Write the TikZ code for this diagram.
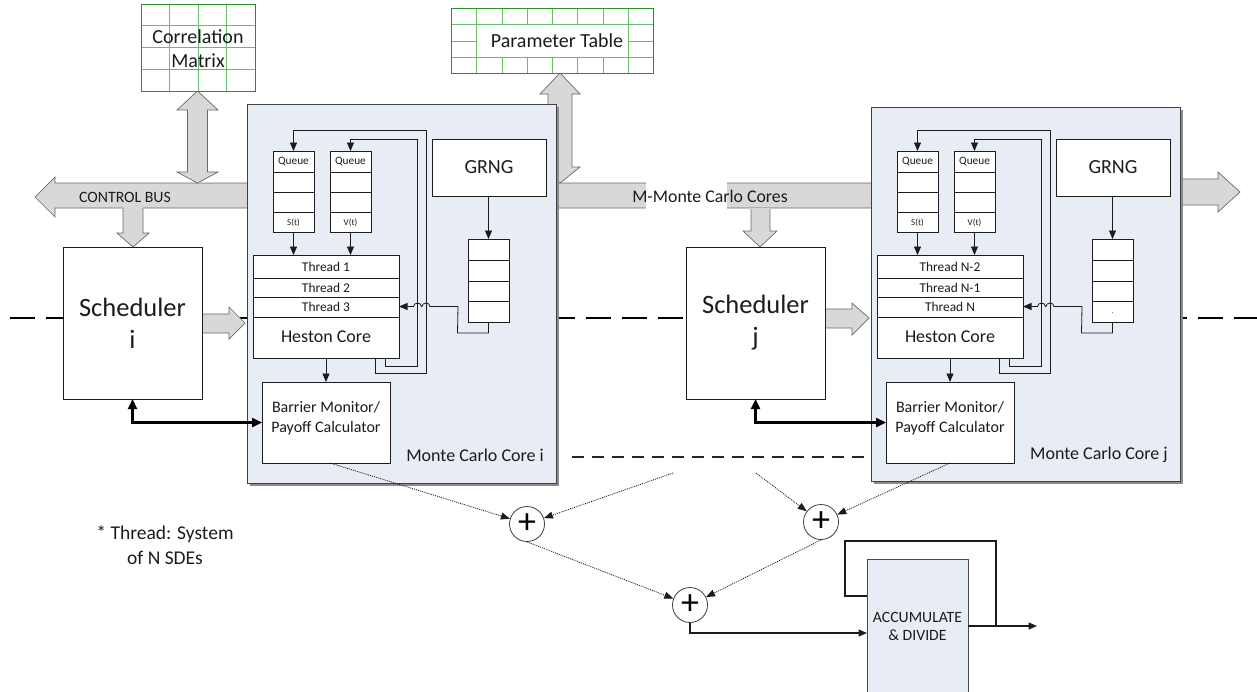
\documentclass[tikz,border=0pt]{standalone}
\usepackage{fontspec}
\setmainfont{Carlito}
\usetikzlibrary{arrows.meta,calc}

\definecolor{coreblue}{RGB}{232,236,244}
\definecolor{busgrey}{RGB}{216,216,216}
\definecolor{busedge}{RGB}{105,105,105}
\definecolor{griddark}{RGB}{40,145,40}
\definecolor{gridlight}{RGB}{105,190,105}
\definecolor{ink}{RGB}{28,28,28}

\newcommand\fs[2]{\fontsize{#1}{#2}\selectfont}

\tikzset{
  blk/.style={draw=ink, line width=0.8pt, fill=white, inner sep=0pt, outer sep=0pt, anchor=north west},
  corebox/.style={draw=black!75, line width=0.9pt, fill=coreblue, inner sep=0pt, outer sep=0pt, anchor=north west},
  gridbox/.style={draw=griddark, line width=0.9pt, fill=white, inner sep=0pt, outer sep=0pt, anchor=north west},
  gridline/.style={draw=gridlight, line width=0.8pt},
  busshape/.style={draw=busedge, line width=0.7pt, fill=busgrey},
  wire/.style={draw=ink, line width=0.8pt},
  sig/.style={wire, -{Triangle[length=8.5pt,width=7pt]}},
  ctl/.style={draw=black, line width=2.3pt, {Triangle[length=10pt,width=9pt]}-{Triangle[length=10pt,width=9pt]}},
  sumline/.style={draw=ink, line width=0.8pt, dash pattern=on 1pt off 1pt, -{Triangle[length=9pt,width=7pt]}},
  adder/.style={circle, draw=ink!85, line width=0.8pt, fill=white, minimum size=35pt, inner sep=0pt},
  txt/.style={text=ink, inner sep=0pt, align=center}
}

% One Monte Carlo core: #1 shift, #2 name suffix, #3 top, #4 height,
% #5-#7 thread rows, #8 core letter
\newcommand\mccore[8]{%
\begin{scope}[xshift=#1]
  \fill[black!45] (250,{#3+3}) rectangle ++(309,#4);
  \node[corebox, minimum width=309, minimum height=#4] (core#2) at (247,#3) {};
  % S(t) and V(t) queues
  \node[blk, minimum width=41, minimum height=81] (qs#2) at (273,151) {};
  \node[blk, minimum width=41, minimum height=81] (qv#2) at (330,151) {};
  \foreach \x in {273,330}{\foreach \y in {172,192,212}{\draw[wire] (\x,\y) -- ++(41,0);}}
  \node[txt, font=\fs{11.3}{13}] at (293.5,161.5) {Queue};
  \node[txt, font=\fs{11.3}{13}] at (350.5,161.5) {Queue};
  \node[txt, font=\fs{9}{11}] at (293.5,222.5) {S(t)};
  \node[txt, font=\fs{9}{11}] at (350.5,222.5) {V(t)};
  % thread stack
  \node[blk, minimum width=146, minimum height=103] (thr#2) at (253,255) {};
  \foreach \y in {278,297,317}{\draw[wire] (253,\y) -- ++(146,0);}
  \node[txt, font=\fs{13.4}{16}] at (326,266.5) {#5};
  \node[txt, font=\fs{13.4}{16}] at (326,287.5) {#6};
  \node[txt, font=\fs{13.4}{16}] at (326,307) {#7};
  \node[txt, font=\fs{18}{22}] at (326,337) {Heston Core};
  \draw[sig] (qs#2.south) -- (qs#2.south |- thr#2.north);
  \draw[sig] (qv#2.south) -- (qv#2.south |- thr#2.north);
  % random number generator and its buffer
  \node[blk, minimum width=114, minimum height=57, font=\fs{20}{24}, text=ink] (grng#2) at (432,139) {GRNG};
  \node[blk, minimum width=41, minimum height=83] (buf#2) at (468,239) {};
  \foreach \y in {260,281,301}{\draw[wire] (468,\y) -- ++(41,0);}
  \draw[sig] (buf#2.north |- grng#2.south) -- (buf#2.north);
  \draw[sig] (buf#2.south) -- ++(0,11) -- ++(-31,0) -- (458,306.5) -- (430,306.5)
     .. controls (430,302) and (422,302) .. (422,306.5) -- (421.5,306.5)
     .. controls (421.5,302) and (413.5,302) .. (413.5,306.5) -- (thr#2.east);
  % feedback of the state variables
  \draw[sig] ([xshift=49pt]thr#2.south) -- ++(0,15) -- ++(51,0) -- ++(0,-243) -| (qs#2.north);
  \draw[sig] ([xshift=59pt]thr#2.south) -- ++(0,8) -- ++(32,0) -- ++(0,-227) -| (qv#2.north);
  % payoff stage
  \node[blk, minimum width=128, minimum height=81] (bar#2) at (262,382) {};
  \node[txt, font=\fs{16}{20}] at (326,418) {Barrier Monitor/\\Payoff Calculator};
  \draw[sig] (thr#2.south) -- (bar#2.north);
  \node[txt, anchor=east, font=\fs{18}{22}] at (544,455) {Monte Carlo Core #8};
\end{scope}}

\begin{document}
\begin{tikzpicture}[x=1pt, y=-1pt]
\useasboundingbox (0,0) rectangle (1257,691);
\clip (0,0) rectangle (1257,691);

% partition lines
\coordinate (dl) at (10,318);
\coordinate (dr) at (1257,318);
\draw[black, line width=2.4pt, dash pattern=on 25pt off 11pt] (dl) -- (dr);
\coordinate (tl) at (572,457);
\coordinate (tr) at (872,457);
\draw[black!85, line width=1.2pt, dash pattern=on 12pt off 8pt] (tl) -- (tr);

% control bus and core bus
\draw[busshape] (35,197) -- (55,177) -- (55,183) -- (872,183) -- (872,208) -- (55,208) -- (55,217) -- cycle;
\fill[white] (646,180) rectangle (727,211);
\draw[busshape] (1170,179) -- (1218,179) -- (1218,172) -- (1240,192) -- (1218,212) -- (1218,205) -- (1170,205) -- cycle;
% bus drops into the schedulers
\fill[busgrey] (123,207) -- (123,233) -- (117,233) -- (133,247) -- (149,233) -- (143,233) -- (143,207) -- cycle;
\draw[busedge, line width=0.7pt] (123,208) -- (123,233) -- (117,233) -- (133,247) -- (149,233) -- (143,233) -- (143,208);
\fill[busgrey] (751,208) -- (751,231) -- (743,231) -- (760,247) -- (777,231) -- (770,231) -- (770,208) -- cycle;
\draw[busedge, line width=0.7pt] (751,209) -- (751,231) -- (743,231) -- (760,247) -- (777,231) -- (770,231) -- (770,209);
% memory ports
\draw[busshape] (197.5,91) -- (218,110) -- (207.5,110) -- (207.5,172) -- (218,172) -- (197.5,183)
   -- (177,172) -- (187.5,172) -- (187.5,110) -- (177,110) -- cycle;
\draw[busshape] (560,73) -- (580,94) -- (572,94) -- (572,167) -- (580,167) -- (560,183)
   -- (540,167) -- (548,167) -- (548,94) -- (540,94) -- cycle;
% scheduler outputs
\draw[busshape] (202,314) -- (229,314) -- (229,307) -- (245,323) -- (229,339) -- (229,333) -- (202,333) -- cycle;
\draw[busshape] (825,309) -- (852,309) -- (852,303) -- (869,318) -- (852,335) -- (852,328) -- (825,328) -- cycle;

\node[txt, font=\fs{15.8}{18}] (cbus) at (125,197) {CONTROL BUS};
\node[txt, font=\fs{17.8}{20}] (mbus) at (710,196) {M-Monte Carlo Cores};

% correlation matrix
\node[gridbox, minimum width=114, minimum height=87] (corr) at (141,4) {};
\foreach \x in {169.5,198,226.5}{\draw[gridline] (\x,4) -- (\x,91);}
\foreach \y in {25.75,47.5,69.25}{\draw[gridline] (141,\y) -- (255,\y);}
\draw[griddark, line width=0.9pt] (corr.north west) rectangle (corr.south east);
\node[txt, font=\fs{20}{24}] at (198,49) {Correlation\\Matrix};

% parameter table
\node[gridbox, minimum width=202, minimum height=65] (ptab) at (451,8) {};
\draw[gridline] (451,24) -- (653,24);
\draw[gridline] (451,57) -- (653,57);
\draw[gridline] (451,41) -- (476,41);
\draw[gridline] (628,41) -- (653,41);
\draw[gridline] (476,8) -- (476,73);
\draw[gridline] (628,8) -- (628,73);
\foreach \x in {502,527,552,577,603}{
  \draw[gridline] (\x,8) -- (\x,24);
  \draw[gridline] (\x,57) -- (\x,73);}
\draw[griddark, line width=0.9pt] (ptab.north west) rectangle (ptab.south east);
\node[txt, font=\fs{20}{24}] at (557,41) {Parameter Table};

% Monte Carlo cores
\mccore{0pt}{i}{104}{379}{Thread 1}{Thread 2}{Thread 3}{i}
\mccore{624pt}{j}{107}{374}{Thread N-2}{Thread N-1}{Thread N}{j}
\node[txt, font=\fs{7}{8}] at ([yshift=9pt]bufj.south) {.};

% schedulers
\node[blk, minimum width=139, minimum height=152, font=\fs{26.5}{32}, align=center, text=ink] (schi) at (63,247) {Scheduler\\i};
\node[blk, minimum width=139, minimum height=152, font=\fs{26.5}{32}, align=center, text=ink] (schj) at (686,247) {Scheduler\\j};
\draw[ctl] (schi.south) |- (bari.west);
\draw[ctl] (schj.south) |- (barj.west);

% reduction tree
\node[adder, font=\fs{36}{36}] (add1) at (527,524) {+};
\node[adder, font=\fs{36}{36}] (add2) at (821,522) {+};
\node[adder, font=\fs{36}{36}] (add3) at (690,605) {+};
\coordinate (ci) at (673,473);
\coordinate (cj) at (756,473);
\draw[sumline] ([xshift=4pt]bari.south) -- (add1);
\draw[sumline] (ci) -- (add1);
\draw[sumline] (cj) -- (add2);
\draw[sumline] (barj.south) -- (add2);
\draw[sumline] (add1.south) -- (add3);
\draw[sumline] (add2.south) -- (add3);

% accumulator
\node[corebox, draw=ink!80, minimum width=101, minimum height=142] (acc) at (867,559) {};
\node[txt, font=\fs{15.7}{18}] at (917.5,626) {ACCUMULATE\\\& DIVIDE};
\draw[sig, line width=1.2pt] (add3.south) |- ([yshift=-3pt]acc.west);
\coordinate (accout) at (1037,626);
\coordinate (tap) at (996,626);
\draw[sig, line width=1.4pt] ([yshift=4pt]acc.east) -- (accout);
\draw[wire, line width=1.4pt] (tap) -- ++(0,-85) -- ++(-151,0) -- ++(0,55) -- ([yshift=34pt]acc.west);

% footnote
\node[txt, font=\fs{19.5}{25}] at (165,545) {* Thread: System\\of N SDEs};
\end{tikzpicture}
\end{document}
